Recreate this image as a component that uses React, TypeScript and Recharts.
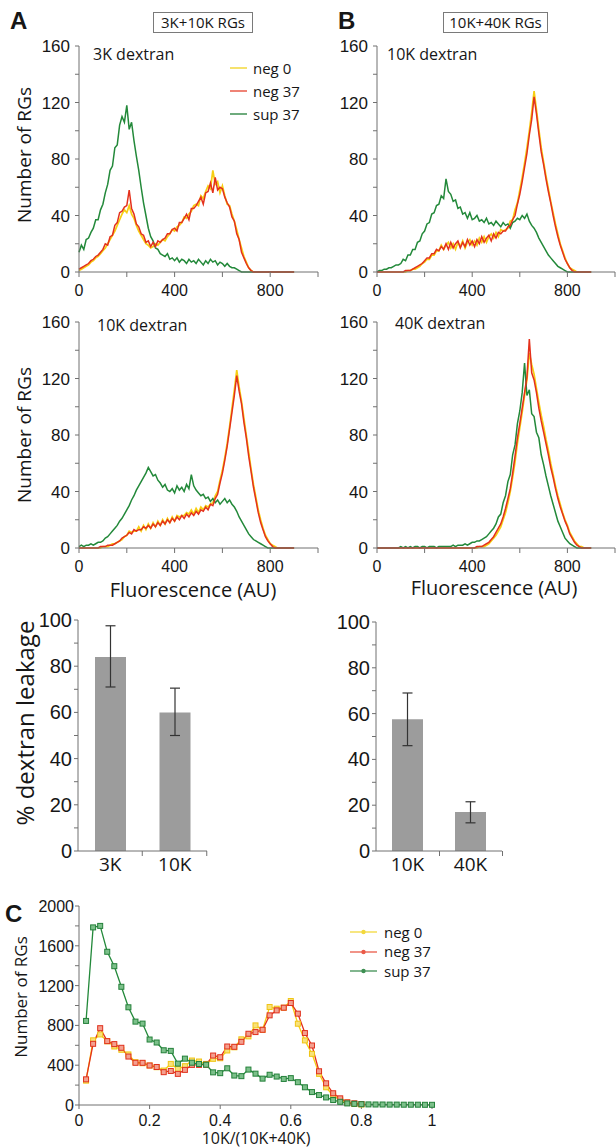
import React from 'react';
import { LineChart, Line, XAxis, YAxis, BarChart, Bar, ErrorBar } from 'recharts';

// fluorescence bins (AU) shared by the four histograms
const fluorBins = [
  0, 10, 20, 30, 40, 50, 60, 70, 80, 90,
  100, 110, 120, 130, 140, 150, 160, 170, 180, 190,
  200, 210, 220, 230, 240, 250, 260, 270, 280, 290,
  300, 310, 320, 330, 340, 350, 360, 370, 380, 390,
  400, 410, 420, 430, 440, 450, 460, 470, 480, 490,
  500, 510, 520, 530, 540, 550, 560, 570, 580, 590,
  600, 610, 620, 630, 640, 650, 660, 670, 680, 690,
  700, 710, 720, 730, 740, 750, 760, 770, 780, 790,
  800, 810, 820, 830, 840, 850, 860, 870, 880, 890,
  900,
];

// A, 3K dextran
const a1Neg0 = [
  1, 2, 3, 4, 5, 7, 8, 10, 11, 13,
  15, 17, 20, 23, 26, 29, 33, 37, 41, 44,
  42, 47, 41, 38, 33, 29, 26, 23, 20, 19,
  17, 18, 20, 19, 21, 23, 22, 25, 27, 30,
  29, 32, 33, 35, 39, 38, 41, 43, 47, 48,
  47, 54, 52, 57, 61, 59, 72, 62, 64, 56,
  61, 54, 48, 47, 41, 36, 30, 23, 17, 11,
  7, 3, 1, 0, 0, 0, 0, 0, 0, 0,
  0, 0, 0, 0, 0, 0, 0, 0, 0, 0,
  0,
];
const a1Neg37 = [
  2, 3, 4, 5, 6, 8, 9, 11, 12, 14,
  16, 20, 19, 25, 26, 33, 35, 42, 43, 46,
  47, 58, 45, 41, 34, 32, 27, 26, 21, 22,
  18, 21, 18, 22, 21, 23, 24, 27, 27, 30,
  31, 29, 35, 35, 38, 41, 37, 45, 45, 47,
  50, 53, 48, 56, 57, 63, 56, 67, 58, 60,
  59, 53, 49, 46, 39, 36, 27, 23, 14, 10,
  6, 3, 1, 0, 0, 0, 0, 0, 0, 0,
  0, 0, 0, 0, 0, 0, 0, 0, 0, 0,
  0,
];
const a1Sup37 = [
  14, 19, 16, 23, 24, 28, 31, 37, 37, 44,
  48, 56, 62, 72, 75, 88, 90, 104, 110, 106,
  118, 101, 106, 93, 82, 72, 60, 49, 40, 31,
  25, 22, 17, 16, 13, 12, 11, 13, 9, 10,
  8, 10, 7, 9, 8, 6, 9, 7, 8, 6,
  9, 7, 5, 8, 6, 9, 7, 8, 5, 7,
  6, 4, 6, 4, 3, 3, 2, 1, 0, 0,
  0, 0, 0, 0, 0, 0, 0, 0, 0, 0,
  0, 0, 0, 0, 0, 0, 0, 0, 0, 0,
  0,
];

// B, 10K dextran
const b1Neg0 = [
  0, 0, 0, 0, 0, 0, 0, 0, 0, 0,
  0, 0, 0, 1, 1, 2, 2, 3, 4, 6,
  7, 9, 9, 12, 12, 15, 15, 19, 16, 19,
  21, 17, 20, 16, 21, 18, 22, 17, 21, 23,
  19, 22, 19, 24, 21, 25, 21, 25, 27, 24,
  28, 25, 30, 29, 30, 31, 36, 37, 44, 49,
  58, 67, 77, 88, 100, 113, 128, 115, 101, 88,
  78, 68, 59, 50, 42, 34, 27, 20, 15, 10,
  6, 3, 2, 1, 0, 0, 0, 0, 0, 0,
  0,
];
const b1Neg37 = [
  0, 0, 0, 0, 0, 0, 0, 0, 0, 0,
  0, 0, 1, 1, 1, 2, 3, 4, 5, 6,
  8, 10, 10, 13, 13, 16, 15, 18, 16, 20,
  16, 21, 17, 20, 22, 17, 21, 18, 23, 19,
  22, 18, 23, 20, 25, 21, 24, 26, 22, 27,
  24, 28, 27, 29, 29, 32, 33, 37, 40, 48,
  55, 64, 74, 84, 97, 108, 124, 112, 98, 85,
  76, 66, 57, 49, 40, 32, 25, 19, 14, 9,
  6, 3, 1, 0, 0, 0, 0, 0, 0, 0,
  0,
];
const b1Sup37 = [
  0, 1, 1, 2, 2, 3, 3, 4, 5, 5,
  6, 9, 8, 12, 12, 16, 16, 21, 22, 27,
  29, 34, 35, 41, 42, 47, 48, 54, 52, 66,
  57, 55, 50, 51, 45, 46, 41, 42, 38, 42,
  37, 38, 40, 36, 37, 35, 38, 34, 35, 33,
  36, 34, 32, 35, 33, 34, 31, 35, 36, 38,
  37, 40, 38, 41, 36, 33, 31, 28, 24, 21,
  18, 15, 12, 10, 8, 6, 4, 3, 2, 1,
  0, 0, 0, 0, 0, 0, 0, 0, 0, 0,
  0,
];

// A, 10K dextran
const a2Neg0 = [
  0, 0, 0, 0, 0, 0, 0, 0, 0, 0,
  1, 1, 1, 2, 3, 3, 4, 5, 6, 8,
  9, 12, 11, 12, 12, 15, 12, 16, 13, 17,
  14, 18, 15, 19, 16, 20, 17, 21, 18, 22,
  19, 23, 22, 23, 23, 25, 24, 27, 24, 28,
  25, 29, 27, 30, 29, 31, 32, 37, 40, 48,
  55, 64, 74, 86, 99, 112, 126, 114, 104, 92,
  80, 68, 56, 45, 36, 27, 20, 14, 9, 6,
  3, 2, 1, 0, 0, 0, 0, 0, 0, 0,
  0,
];
const a2Neg37 = [
  0, 0, 0, 0, 0, 0, 0, 0, 0, 1,
  1, 1, 2, 2, 2, 3, 4, 5, 7, 8,
  9, 11, 10, 13, 12, 13, 13, 15, 14, 16,
  14, 17, 15, 18, 16, 19, 17, 20, 18, 21,
  19, 22, 20, 23, 21, 24, 22, 25, 23, 26,
  24, 27, 26, 29, 27, 31, 30, 35, 38, 46,
  53, 62, 72, 84, 96, 108, 122, 111, 102, 89,
  78, 65, 54, 43, 34, 25, 18, 13, 8, 5,
  3, 1, 0, 0, 0, 0, 0, 0, 0, 0,
  0,
];
const a2Sup37 = [
  1, 2, 1, 2, 2, 3, 2, 3, 4, 4,
  5, 7, 8, 10, 12, 14, 16, 19, 21, 24,
  27, 30, 34, 37, 41, 44, 47, 50, 53, 57,
  54, 51, 52, 48, 46, 43, 45, 41, 40, 42,
  39, 44, 41, 43, 40, 45, 42, 52, 44, 41,
  39, 37, 38, 35, 36, 33, 35, 32, 34, 31,
  33, 35, 32, 34, 31, 29, 26, 22, 19, 16,
  13, 10, 8, 6, 5, 4, 3, 2, 1, 0,
  0, 0, 0, 0, 0, 0, 0, 0, 0, 0,
  0,
];

// B, 40K dextran
const b2Neg0 = [
  0, 0, 0, 0, 0, 0, 0, 0, 0, 0,
  0, 0, 0, 0, 0, 0, 0, 0, 0, 0,
  0, 0, 0, 0, 0, 0, 0, 0, 0, 0,
  0, 0, 0, 0, 0, 0, 0, 0, 0, 0,
  0, 0, 0, 1, 1, 1, 2, 3, 5, 7,
  9, 12, 15, 20, 25, 32, 40, 50, 61, 74,
  85, 96, 108, 119, 138, 130, 123, 113, 103, 94,
  86, 77, 69, 60, 52, 44, 37, 31, 25, 20,
  16, 11, 8, 5, 3, 1, 1, 0, 0, 0,
  0,
];
const b2Neg37 = [
  0, 0, 0, 0, 0, 0, 0, 0, 0, 0,
  0, 0, 0, 0, 0, 0, 0, 0, 0, 0,
  0, 0, 0, 0, 0, 0, 0, 0, 0, 0,
  0, 0, 0, 0, 0, 0, 0, 0, 0, 0,
  0, 0, 1, 1, 1, 2, 3, 4, 6, 8,
  11, 14, 17, 22, 28, 35, 42, 53, 65, 78,
  88, 99, 110, 121, 148, 124, 119, 110, 99, 90,
  82, 74, 66, 57, 50, 42, 35, 29, 24, 19,
  15, 10, 7, 4, 2, 1, 0, 0, 0, 0,
  0,
];
const b2Sup37 = [
  0, 0, 0, 0, 0, 0, 0, 0, 0, 0,
  1, 0, 1, 0, 1, 0, 1, 1, 0, 1,
  1, 0, 1, 1, 1, 0, 1, 1, 1, 1,
  1, 1, 2, 1, 2, 2, 2, 3, 2, 3,
  4, 4, 5, 5, 6, 7, 8, 10, 12, 14,
  17, 22, 24, 32, 37, 47, 52, 66, 73, 88,
  97, 110, 131, 108, 112, 95, 93, 82, 78, 66,
  59, 51, 44, 37, 31, 25, 19, 15, 11, 7,
  5, 3, 2, 1, 0, 0, 0, 0, 0, 0,
  0,
];

// leakage bars
const leakA = ['3K', '10K'];
const leakAValue = [84, 60];
const leakAErr = [[13, 13.5], [10, 10.5]];
const leakB = ['10K', '40K'];
const leakBValue = [57.5, 17];
const leakBErr = [[11.5, 11.5], [4.7, 4.5]];

// C, 10K/(10K+40K) ratio
const ratioBins = [
  0.02, 0.04, 0.06, 0.08, 0.1, 0.12, 0.14, 0.16, 0.18, 0.2,
  0.22, 0.24, 0.26, 0.28, 0.3, 0.32, 0.34, 0.36, 0.38, 0.4,
  0.42, 0.44, 0.46, 0.48, 0.5, 0.52, 0.54, 0.56, 0.58, 0.6,
  0.62, 0.64, 0.66, 0.68, 0.7, 0.72, 0.74, 0.76, 0.78, 0.8,
  0.82, 0.84, 0.86, 0.88, 0.9, 0.92, 0.94, 0.96, 0.98, 1,
];
const cNeg0 = [
  245, 650, 709, 640, 588, 555, 508, 430, 420, 397,
  380, 346, 413, 363, 390, 447, 437, 413, 464, 470,
  548, 580, 660, 690, 800, 756, 985, 968, 978, 1045,
  817, 649, 514, 313, 178, 94, 50, 24, 10, 5,
];
const cNeg37 = [
  258, 615, 772, 642, 612, 575, 487, 424, 424, 397,
  382, 330, 342, 313, 353, 403, 403, 405, 497, 480,
  588, 585, 635, 716, 733, 756, 901, 951, 978, 1025,
  918, 723, 598, 339, 218, 118, 67, 27, 17, 10,
];
const cSup37 = [
  845, 1785, 1800, 1540, 1395, 1188, 982, 838, 818, 658,
  628, 550, 544, 416, 466, 425, 412, 405, 328, 320,
  369, 296, 290, 356, 315, 265, 304, 286, 262, 270,
  229, 178, 130, 100, 76, 50, 32, 16, 12, 8,
  6, 5, 5, 4, 4, 3, 3, 3, 2, 2,
];

const fluorTicks = [0, 200, 400, 600, 800, 1000];
const fluorLabels = [0, 400, 800];
const countTicks = [0, 20, 40, 60, 80, 100, 120, 140, 160];
const countLabels = [0, 40, 80, 120, 160];
const leakTicks = [0, 10, 20, 30, 40, 50, 60, 70, 80, 90, 100];
const leakLabels = [0, 20, 40, 60, 80, 100];
const ratioTicks = [0, 0.2, 0.4, 0.6, 0.8, 1];
const rgTicks = [0, 200, 400, 600, 800, 1000, 1200, 1400, 1600, 1800, 2000];
const rgLabels = [0, 400, 800, 1200, 1600, 2000];

const INK = '#161616';
const AXIS = '#707070';
const NUM_FONT = '"Liberation Sans", Arial, sans-serif';
const TXT_FONT = '"Open Sans", "Noto Sans", sans-serif';
const YELLOW = '#f7cf12';
const RED = '#e4311c';
const GREEN = '#23893a';
const BAR = '#9c9c9c';

const histRows = (neg0: number[], neg37: number[], sup37: number[]) =>
  fluorBins.map((f, i) => ({ f, neg0: neg0[i], neg37: neg37[i], sup37: sup37[i] }));

const numTick = (labels: number[], anchor: 'end' | 'middle', size: number, dy: number) => (p: any) => {
  const v = p.payload.value;
  if (!labels.includes(v)) return <g key={`t${v}`} />;
  return (
    <text key={`t${v}`} x={p.x} y={p.y} dy={dy} textAnchor={anchor} fontSize={size} fontFamily={NUM_FONT} fill={INK}>
      {v}
    </text>
  );
};

// category label plus a tick on the right edge of its band
const catTick = (p: any) => (
  <g key={`c${p.payload.value}`}>
    <line x1={p.x + 32} y1={p.y - 6} x2={p.x + 32} y2={p.y - 1} stroke={AXIS} />
    <text x={p.x} y={p.y} dy={14} textAnchor="middle" fontSize={19} fontFamily={TXT_FONT} fill={INK}>
      {p.payload.value}
    </text>
  </g>
);

const squareDot = (stroke: string, fill: string) => (p: any) => {
  if (p.value == null || !Number.isFinite(p.cy)) return <g key={`d${p.index}`} />;
  return (
    <rect key={`d${p.index}`} x={p.cx - 2.5} y={p.cy - 2.5} width={5} height={5} fill={fill} stroke={stroke} strokeWidth={1} />
  );
};

function Txt({ x, y, size, children, font = TXT_FONT, rotate = false, align = 'middle', bold = false }: any) {
  const tx = align === 'middle' ? '-50%' : '0';
  return (
    <div
      style={{
        position: 'absolute',
        left: x,
        top: y,
        transform: `translate(${tx},-50%)${rotate ? ' rotate(-90deg)' : ''}`,
        fontFamily: font,
        fontSize: size,
        fontWeight: bold ? 700 : 400,
        lineHeight: 1,
        whiteSpace: 'nowrap',
        color: INK,
      }}
    >
      {children}
    </div>
  );
}

function Histogram({ left, top, width, right, rows }: any) {
  return (
    <div style={{ position: 'absolute', left, top }}>
      <LineChart width={width} height={300} data={rows} margin={{ top: 46, right, left: 0, bottom: 0 }}>
        <XAxis dataKey="f" type="number" domain={[0, 1000]} ticks={fluorTicks} interval={0} height={28}
          tickSize={5} tickMargin={2} stroke={AXIS} tick={numTick(fluorLabels, 'middle', 16, 17)} />
        <YAxis type="number" domain={[0, 160]} ticks={countTicks} interval={0} width={79}
          tickSize={4} tickMargin={5} stroke={AXIS} tick={numTick(countLabels, 'end', 17, 6)} />
        <Line type="linear" dataKey="neg0" stroke={YELLOW} strokeWidth={1.7} dot={false} isAnimationActive={false} />
        <Line type="linear" dataKey="sup37" stroke={GREEN} strokeWidth={1.5} dot={false} isAnimationActive={false} />
        <Line type="linear" dataKey="neg37" stroke={RED} strokeWidth={1.5} dot={false} isAnimationActive={false} />
      </LineChart>
    </div>
  );
}

function LeakageBars({ left, top, right, marginTop, rows }: any) {
  return (
    <div style={{ position: 'absolute', left, top }}>
      <BarChart width={210} height={300} data={rows} margin={{ top: marginTop, right, left: 0, bottom: 0 }}>
        <XAxis dataKey="name" height={29} tickLine={false} tickSize={4} tickMargin={2} stroke={AXIS} interval={0} tick={catTick} />
        <YAxis type="number" domain={[0, 100]} ticks={leakTicks} interval={0} width={78}
          tickSize={4} tickMargin={2} stroke={AXIS} tick={numTick(leakLabels, 'end', 20, 7)} />
        <Bar dataKey="value" fill={BAR} barSize={31} isAnimationActive={false}>
          <ErrorBar dataKey="err" width={5} stroke="#333" strokeWidth={1.2} direction="y" />
        </Bar>
      </BarChart>
    </div>
  );
}

const legendRows = [
  { name: 'neg 0', color: '#f3d83c' },
  { name: 'neg 37', color: '#ea5a48' },
  { name: 'sup 37', color: '#3e8f52' },
];

export default function App() {
  const rowsA1 = histRows(a1Neg0, a1Neg37, a1Sup37);
  const rowsB1 = histRows(b1Neg0, b1Neg37, b1Sup37);
  const rowsA2 = histRows(a2Neg0, a2Neg37, a2Sup37);
  const rowsB2 = histRows(b2Neg0, b2Neg37, b2Sup37);
  const barsA = leakA.map((name, i) => ({ name, value: leakAValue[i], err: leakAErr[i] }));
  const barsB = leakB.map((name, i) => ({ name, value: leakBValue[i], err: leakBErr[i] }));
  const rowsC = ratioBins.map((r, i) => ({ r, neg0: cNeg0[i], neg37: cNeg37[i], sup37: cSup37[i] }));

  return (
    <div style={{ position: 'absolute', left: 0, top: 0, width: 616, height: 1148, background: '#fff', overflow: 'hidden' }}>
      <Histogram left={0} top={0} width={320} right={2} rows={rowsA1} />
      <Histogram left={298} top={0} width={318} right={1} rows={rowsB1} />
      <Histogram left={0} top={276} width={320} right={2} rows={rowsA2} />
      <Histogram left={298} top={276} width={318} right={1} rows={rowsB2} />
      <LeakageBars left={0} top={580} right={3} marginTop={40} rows={barsA} />
      <LeakageBars left={298} top={580} right={6} marginTop={42} rows={barsB} />

      <div style={{ position: 'absolute', left: 0, top: 866 }}>
        <LineChart width={440} height={282} data={rowsC} margin={{ top: 40, right: 8, left: 0, bottom: 0 }}>
          <XAxis dataKey="r" type="number" domain={[0, 1]} ticks={ratioTicks} interval={0} height={43}
            tickSize={4} tickMargin={2} stroke={AXIS} tick={numTick(ratioTicks, 'middle', 16, 15)} />
          <YAxis type="number" domain={[0, 2000]} ticks={rgTicks} interval={0} width={79}
            tickSize={4} tickMargin={1} stroke={AXIS} tick={numTick(rgLabels, 'end', 16, 6)} />
          <Line type="linear" dataKey="neg0" stroke={YELLOW} strokeWidth={1.3} dot={squareDot('#f0c414', '#f8e27a')} isAnimationActive={false} />
          <Line type="linear" dataKey="neg37" stroke={RED} strokeWidth={1.3} dot={squareDot('#e0301c', '#f3a090')} isAnimationActive={false} />
          <Line type="linear" dataKey="sup37" stroke={GREEN} strokeWidth={1.3} dot={squareDot('#24803a', '#7cc08a')} isAnimationActive={false} />
        </LineChart>
      </div>

      {/* panel letters and titles */}
      <Txt x={10} y={21} size={24} font={NUM_FONT} bold align="left">A</Txt>
      <Txt x={338} y={21} size={24} font={NUM_FONT} bold align="left">B</Txt>
      <Txt x={5} y={914} size={24} font={NUM_FONT} bold align="left">C</Txt>
      <div style={{ position: 'absolute', left: 153, top: 12, width: 100, height: 21, border: '1px solid #7a7a7a', boxSizing: 'border-box',
        fontFamily: TXT_FONT, fontSize: 15, lineHeight: '19px', textAlign: 'center', color: INK }}>3K+10K RGs</div>
      <div style={{ position: 'absolute', left: 443, top: 12, width: 105, height: 21, border: '1px solid #7a7a7a', boxSizing: 'border-box',
        fontFamily: TXT_FONT, fontSize: 15, lineHeight: '19px', textAlign: 'center', color: INK }}>10K+40K RGs</div>

      <Txt x={93} y={54} size={16} align="left">3K dextran</Txt>
      <Txt x={387} y={54} size={16} align="left">10K dextran</Txt>
      <Txt x={97} y={325} size={16} align="left">10K dextran</Txt>
      <Txt x={395} y={323} size={16} align="left">40K dextran</Txt>

      {/* legend, panel A */}
      {legendRows.map((row, i) => (
        <div key={row.name} style={{ position: 'absolute', left: 230, top: 60 + i * 23, height: 16, display: 'flex', alignItems: 'center' }}>
          <svg width={17} height={4}><line x1={0} y1={2} x2={17} y2={2} stroke={row.color} strokeWidth={1.5} /></svg>
          <span style={{ marginLeft: 6, fontFamily: TXT_FONT, fontSize: 15, color: INK, lineHeight: 1 }}>{row.name}</span>
        </div>
      ))}

      {/* axis titles */}
      <Txt x={24} y={155} size={19} rotate>Number of RGs</Txt>
      <Txt x={24} y={435} size={19} rotate>Number of RGs</Txt>
      <Txt x={193} y={590} size={20}>Fluorescence (AU)</Txt>
      <Txt x={494} y={588} size={20}>Fluorescence (AU)</Txt>
      <Txt x={25} y={723} size={24} rotate>% dextran leakage</Txt>
      <Txt x={20} y={997} size={17} rotate>Number of RGs</Txt>
      <Txt x={256} y={1138} size={16}>10K/(10K+40K)</Txt>

      {/* legend, panel C */}
      {legendRows.map((row, i) => (
        <div key={row.name} style={{ position: 'absolute', left: 350, top: 924 + i * 19.5, height: 16, display: 'flex', alignItems: 'center' }}>
          <svg width={27} height={6}>
            <line x1={0} y1={3} x2={27} y2={3} stroke={row.color} strokeWidth={1.3} />
            <circle cx={13.5} cy={3} r={2.2} fill={row.color} />
          </svg>
          <span style={{ marginLeft: 7, fontFamily: TXT_FONT, fontSize: 15, color: INK, lineHeight: 1 }}>{row.name}</span>
        </div>
      ))}
    </div>
  );
}
